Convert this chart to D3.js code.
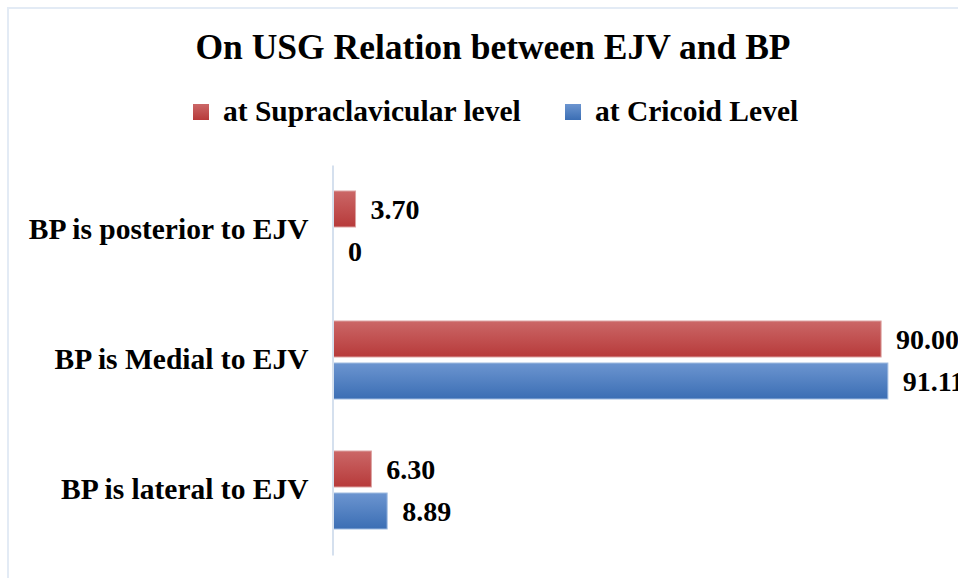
<!DOCTYPE html>
<html>
<head>
<meta charset="utf-8">
<script src="https://cdn.jsdelivr.net/npm/d3@7"></script>
<style>
  body { margin: 0; background: #fff; }
  text { font-family: "Liberation Serif", "Times New Roman", serif; font-weight: bold; fill: #000; }
</style>
</head>
<body>
<svg width="958" height="578"></svg>
<script>
// data
var categories = ["BP is posterior to EJV", "BP is Medial to EJV", "BP is lateral to EJV"];
var seriesNames = ["at Supraclavicular level", "at Cricoid Level"];
var supraValues = [3.70, 90.00, 6.30];
var cricoidValues = [0, 91.11, 8.89];
var valueLabels = [["3.70", "90.00", "6.30"], ["0", "91.11", "8.89"]];

var svg = d3.select("svg");
var defs = svg.append("defs");

function grad(id, top, bottom) {
    var g = defs.append("linearGradient").attr("id", id)
        .attr("x1", 0).attr("y1", 0).attr("x2", 0).attr("y2", 1);
    g.append("stop").attr("offset", "0%").attr("stop-color", top);
    g.append("stop").attr("offset", "100%").attr("stop-color", bottom);
}
grad("gRed", "#cb6767", "#b73a3a");
grad("gBlue", "#6c95d0", "#3b6eb4");
var fills = ["url(#gRed)", "url(#gBlue)"];
var strokes = ["#dca2a1", "#9fbbe0"];

// faint chart border
svg.append("rect")
    .attr("x", 8).attr("y", 8).attr("width", 1000).attr("height", 600)
    .attr("fill", "none").attr("stroke", "#e3ebf5").attr("stroke-width", 2);

// scales
var xScale = d3.scaleLinear().domain([0, 100]).range([333, 942]);
var yScale = d3.scaleBand().domain(categories).range([165, 555])
    .paddingInner(0.4).paddingOuter(0.2);
var ySub = d3.scaleBand().domain([0, 1]).range([0, yScale.bandwidth()])
    .paddingInner(0.143);

var rows = [];
categories.forEach(function(c, i) {
    rows.push({cat: c, s: 0, v: supraValues[i], label: valueLabels[0][i]});
    rows.push({cat: c, s: 1, v: cricoidValues[i], label: valueLabels[1][i]});
});

// bars
svg.selectAll("rect.bar")
    .data(rows)
    .enter()
    .append("rect")
    .attr("class", "bar")
    .attr("x", xScale(0))
    .attr("y", function(d) { return yScale(d.cat) + ySub(d.s); })
    .attr("width", function(d) { return xScale(d.v) - xScale(0); })
    .attr("height", ySub.bandwidth())
    .attr("fill", function(d) { return fills[d.s]; })
    .attr("stroke", function(d) { return d.v > 0 ? strokes[d.s] : "none"; })
    .attr("stroke-width", 1);

// value labels (the two long ones run past the right edge, as in the original)
svg.selectAll("text.val")
    .data(rows)
    .enter()
    .append("text")
    .attr("class", "val")
    .attr("x", function(d) { return xScale(d.v) + 15; })
    .attr("y", function(d) { return yScale(d.cat) + ySub(d.s) + ySub.bandwidth() / 2; })
    .attr("dy", "0.35em")
    .style("font-size", "28px")
    .text(function(d) { return d.label; });

// category axis
svg.append("g")
    .attr("transform", "translate(" + (xScale(0) - 0.5) + ",0)")
    .call(d3.axisLeft(yScale).tickSize(0).tickPadding(24))
    .call(function(g) {
        g.select(".domain").attr("stroke", "#d5e0ee").attr("stroke-width", 2);
        g.selectAll("text").style("font-size", "29.5px")
            .style("font-family", "Liberation Serif, serif").attr("fill", "#000");
    });

// title
svg.append("text")
    .attr("x", 493).attr("y", 59)
    .attr("text-anchor", "middle")
    .style("font-size", "35.5px")
    .text("On USG Relation between EJV and BP");

// legend
var legendX = [193, 565];
seriesNames.forEach(function(name, i) {
    svg.append("rect")
        .attr("x", legendX[i]).attr("y", 104)
        .attr("width", 16).attr("height", 16)
        .attr("fill", fills[i]);
    svg.append("text")
        .attr("x", legendX[i] + 30).attr("y", 121)
        .style("font-size", "29.5px")
        .text(name);
});
</script>
</body>
</html>
